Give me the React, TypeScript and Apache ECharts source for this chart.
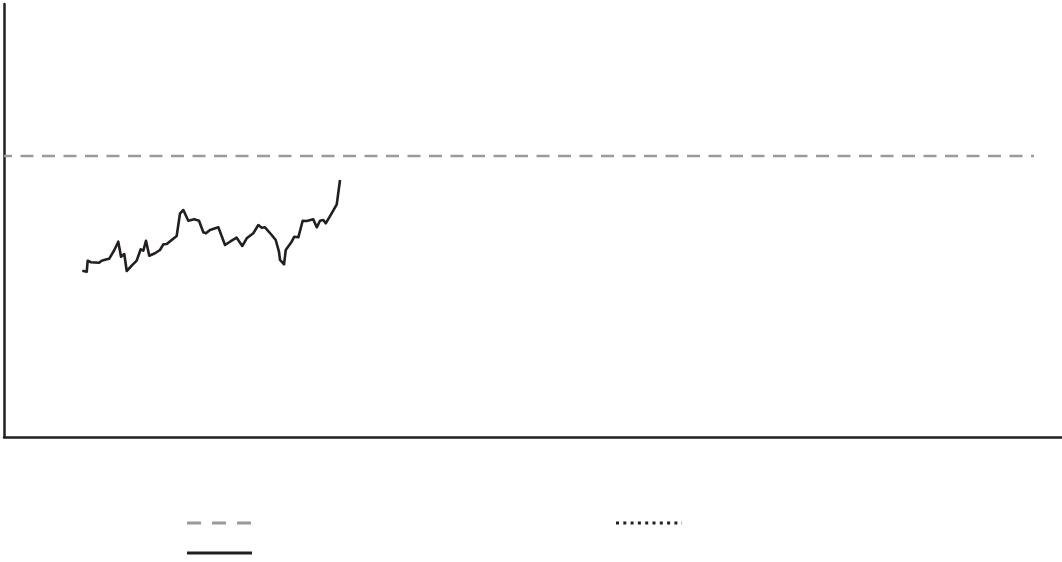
import React, { useEffect, useRef } from "react";
import * as echarts from "echarts";

// Observed series (x position in axis units, value)
const observedX = [7.40, 7.82, 7.91, 8.22, 8.98, 9.23, 9.71, 9.95, 10.43, 10.80, 11.06, 11.37, 11.60, 12.07, 12.54, 12.92, 13.17, 13.42, 13.73, 14.27, 14.74, 15.06, 15.38, 16.32, 16.64, 16.95, 17.42, 17.99, 18.43, 18.84, 19.09, 19.47, 20.26, 20.89, 21.36, 21.99, 22.52, 22.94, 23.56, 24.04, 24.36, 24.67, 25.30, 25.68, 25.99, 26.09, 26.47, 26.63, 27.19, 27.44, 27.82, 28.23, 28.61, 29.23, 29.56, 29.87, 30.18, 30.41, 30.97, 31.45, 31.76];
const observedY = [38.41, 38.18, 40.72, 40.35, 40.25, 40.72, 41.04, 41.18, 43.19, 45.10, 41.64, 42.26, 38.34, 39.56, 40.72, 43.35, 43.03, 45.33, 41.87, 42.43, 43.19, 44.50, 44.57, 46.42, 51.66, 52.42, 49.95, 50.28, 49.95, 47.27, 47.04, 47.81, 48.43, 44.34, 45.10, 46.03, 44.11, 45.89, 47.04, 48.96, 48.34, 48.43, 46.65, 45.50, 42.79, 40.88, 39.88, 43.19, 45.10, 46.26, 46.12, 49.95, 49.88, 50.28, 48.43, 49.95, 50.12, 49.35, 51.66, 53.74, 59.35];

// Target (dashed) series
const targetX = [0, 97.35];
const targetY = [64.9, 64.9];

// Projection (dotted) series - no visible data
const projectionData: number[][] = [];

const xMin = 0;
const xMax = 100;
const yMin = 0;
const yMax = 100;

export default function App() {
  const ref = useRef<HTMLDivElement>(null);
  useEffect(() => {
    document.body.style.margin = "0";
    if (!ref.current) return;
    const chart = echarts.init(ref.current, null, { renderer: "svg" });
    const ink = "#231f20";
    const gray = "#9a9a9a";
    chart.setOption({
      animation: false,
      backgroundColor: "#ffffff",
      grid: { left: 4, right: 0, top: 4, bottom: 125 },
      xAxis: {
        type: "value",
        min: xMin,
        max: xMax,
        axisLine: { show: true, onZero: false, lineStyle: { color: ink, width: 2.5 } },
        axisTick: { show: false },
        axisLabel: { show: false },
        splitLine: { show: false },
      },
      yAxis: {
        type: "value",
        min: yMin,
        max: yMax,
        axisLine: { show: true, lineStyle: { color: ink, width: 2.5 } },
        axisTick: { show: false },
        axisLabel: { show: false },
        splitLine: { show: false },
      },
      series: [
        {
          type: "line",
          name: "target",
          data: targetX.map((x, i) => [x, targetY[i]]),
          symbol: "none",
          lineStyle: { color: gray, width: 2.5, type: [13, 8.5], dashOffset: 5 },
        },
        {
          type: "line",
          name: "projection",
          data: projectionData,
          symbol: "none",
          lineStyle: { color: ink, width: 3, type: [3, 4.3] },
        },
        {
          type: "line",
          name: "observed",
          data: observedX.map((x, i) => [x, observedY[i]]),
          symbol: "none",
          lineStyle: { color: ink, width: 2.6, join: "round" },
        },
      ],
      graphic: [
        {
          type: "line",
          shape: { x1: 187, y1: 523, x2: 252, y2: 523 },
          style: { stroke: gray, lineWidth: 3, lineDash: [14, 11] },
        },
        {
          type: "line",
          shape: { x1: 616, y1: 523, x2: 682, y2: 523 },
          style: { stroke: ink, lineWidth: 3, lineDash: [3, 4.3] },
        },
        {
          type: "line",
          shape: { x1: 187, y1: 553, x2: 252, y2: 553 },
          style: { stroke: ink, lineWidth: 3 },
        },
      ],
    });
    return () => chart.dispose();
  }, []);
  return <div ref={ref} style={{ width: 1062, height: 562 }} />;
}
